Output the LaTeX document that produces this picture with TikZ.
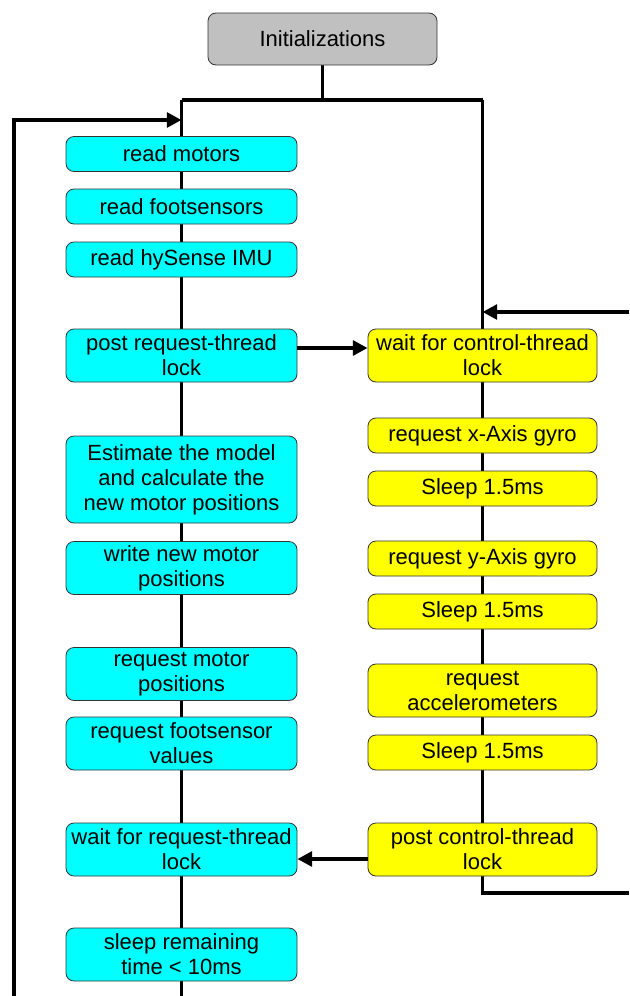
\documentclass[tikz,border=0pt]{standalone}
\usepackage{fontspec}
\setmainfont{Liberation Sans}
\usetikzlibrary{arrows.meta,calc,backgrounds}
\definecolor{ctrlfill}{RGB}{0,255,255}
\definecolor{reqfill}{RGB}{255,255,0}
\definecolor{initfill}{RGB}{192,192,192}
\begin{document}
\begin{tikzpicture}[x=0.75pt,y=-0.75pt,
  box/.style={draw=black!80,line width=0.6pt,rounded corners=6pt,inner sep=0pt,align=center,
    font=\fontsize{16.5pt}{18.75pt}\selectfont},
  lbox/.style={box,fill=ctrlfill,minimum width=173.25pt},
  rbox/.style={box,fill=reqfill,minimum width=171.75pt},
  one/.style={minimum height=26.25pt},
  two/.style={minimum height=39.75pt},
  conn/.style={line width=2.9pt,line join=miter},
  tip/.style={-{Triangle[length=11pt,width=11pt]}}]
\useasboundingbox (0,0) rectangle (629,996);

% start
\node[box,fill=initfill,minimum width=171.75pt,minimum height=39pt] (init) at (322.5,39) {Initializations};

% main (control) thread
\node[lbox,one] (rm)  at (181.5,154)   {read motors};
\node[lbox,one] (rf)  at (181.5,206.5) {read footsensors};
\node[lbox,one] (ri)  at (181.5,259.5) {read hySense IMU};
\node[lbox,two] (prt) at (181.5,355.5) {post request-thread\\lock};
\node[lbox,minimum height=65.25pt] (est) at (181.5,479.5) {Estimate the model\\and calculate the\\new motor positions};
\node[lbox,two] (wnm) at (181.5,568)   {write new motor\\positions};
\node[lbox,two] (rmp) at (181.5,674)   {request motor\\positions};
\node[lbox,two] (rfv) at (181.5,743.5) {request footsensor\\values};
\node[lbox,two] (wrt) at (181.5,849.5) {wait for request-thread\\lock};
\node[lbox,two] (slp) at (181.5,954.5) {sleep remaining\\time < 10ms};

% request thread
\node[rbox,two] (wct) at (482.5,355.5) {wait for control-thread\\lock};
\node[rbox,one] (rx)  at (482.5,435.5) {request x-Axis gyro};
\node[rbox,one] (s1)  at (482.5,488.5) {Sleep 1.5ms};
\node[rbox,one] (ry)  at (482.5,558.5) {request y-Axis gyro};
\node[rbox,one] (s2)  at (482.5,611.5) {Sleep 1.5ms};
\node[rbox,two] (ra)  at (482.5,690.5) {request\\accelerometers};
\node[rbox,one] (s3)  at (482.5,752.5) {Sleep 1.5ms};
\node[rbox,two] (pct) at (482.5,849.5) {post control-thread\\lock};

% junctions and free ends
\coordinate (split) at (322.5,100);
\coordinate (jl) at (181.5,100);
\coordinate (jr) at (482.5,100);
\coordinate (lend) at (181.5,996);
\coordinate (loopb) at (14,996);
\coordinate (loopt) at (14,120);
\coordinate (rin) at (629,312);
\coordinate (rout) at (629,893);

\begin{scope}[on background layer]
  \draw[conn] (init.south) -- (split);
  \draw[conn] (jl) -- (jr);
  \draw[conn] (jl) -- (lend);
  \draw[conn] (jr) -- (pct.center) |- (rout);
  \draw[conn,tip] (loopb) -- (loopt) -- (jl |- loopt);
  \draw[conn,tip] (rin) -- (jr |- rin);
\end{scope}

% lock hand-over between the threads
\draw[conn,tip] ($(prt.east)+(0,-7.5)$) -- ($(wct.west)+(0,-7.5)$);
\draw[conn,tip] ($(pct.west)+(0,9.5)$) -- ($(wrt.east)+(0,9.5)$);
\end{tikzpicture}
\end{document}
